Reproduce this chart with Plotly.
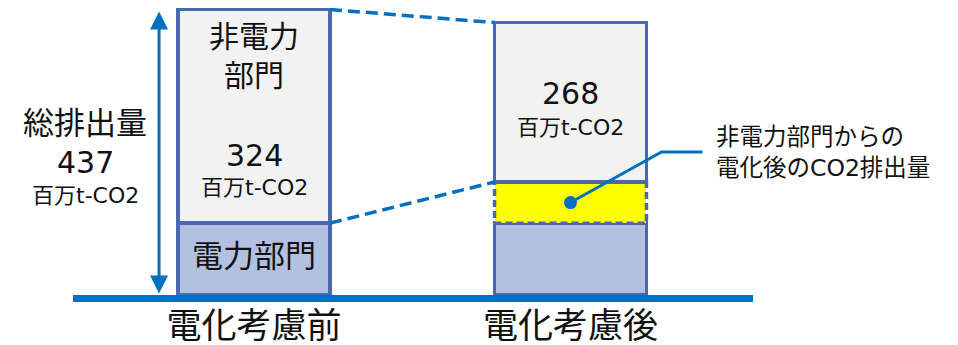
import plotly.graph_objects as go

# データ (百万t-CO2)
categories = ["電化考慮前", "電化考慮後"]
power = [110, 110]          # 電力部門
electrified = [0, 63]       # 非電力部門からの電化後のCO2排出量
non_power = [327, 244]      # 非電力部門
label_total = "437"
label_non_power = ["324", "268"]
unit = "百万t-CO2"

FONT = "DejaVu Sans, Noto Sans CJK JP"
OUTLINE = "#4A68B0"
BLUE = "#0070C0"

xs = [0, 1]
w = 0.48
px_y = 0.6533  # px per unit
def yp(py):
    return (295 - py) / px_y

fig = go.Figure()

fig.add_trace(go.Bar(x=xs, y=power, width=w, marker=dict(color="#B4C0DF", line=dict(color=OUTLINE, width=3.5))))
fig.add_trace(go.Bar(x=xs, y=electrified, width=w, marker=dict(color="#FFFF00", line=dict(width=0))))
fig.add_trace(go.Bar(x=xs, y=non_power, width=w, marker=dict(color="#F2F2F2", line=dict(color=OUTLINE, width=3.5))))

tot = [power[i] + electrified[i] + non_power[i] for i in range(2)]
mid = [power[i] + electrified[i] for i in range(2)]

# 黄色部分の破線枠
fig.add_trace(go.Scatter(
    x=[xs[1] - w/2, xs[1] + w/2, xs[1] + w/2, xs[1] - w/2, xs[1] - w/2],
    y=[power[1], power[1], mid[1], mid[1], power[1]],
    mode="lines", line=dict(color=OUTLINE, width=3.5, dash="7px,4px")))

# 電化前後をつなぐ破線
fig.add_trace(go.Scatter(x=[xs[0] + w/2, xs[1] - w/2], y=[tot[0], tot[1]],
                         mode="lines", line=dict(color=BLUE, width=3.5, dash="12px,6px")))
fig.add_trace(go.Scatter(x=[xs[0] + w/2, xs[1] - w/2], y=[power[0], mid[1]],
                         mode="lines", line=dict(color=BLUE, width=3.5, dash="12px,6px")))

# 引き出し線
lead_y = yp(152)
fig.add_trace(go.Scatter(x=[xs[1], xs[1] + 0.2875, xs[1] + 0.417],
                         y=[power[1] + electrified[1] / 2, lead_y, lead_y],
                         mode="lines+markers", line=dict(color=BLUE, width=3),
                         marker=dict(size=[13, 0, 0], color=BLUE, opacity=1, line=dict(width=0))))

ann = []
# 総排出量の両矢印
ann.append(dict(x=-0.300, y=tot[0] - 3, ax=-0.300, ay=0, xref="x", yref="y", axref="x", ayref="y",
                text="", showarrow=True, arrowside="end+start", arrowhead=2, arrowsize=1.2,
                arrowwidth=3, arrowcolor=BLUE, standoff=0, startstandoff=0))

def txt(x, y, t, size, **kw):
    d = dict(x=x, y=y, xref="x", yref="y", text=t, showarrow=False,
             font=dict(family=FONT, size=size, color="#111111"))
    d.update(kw)
    ann.append(d)

txt(xs[0], yp(56), "非電力<br>部門", 30)
txt(xs[0], yp(155), label_non_power[0], 30)
txt(xs[0], yp(187), unit, 22)
txt(xs[0], yp(256), "電力部門", 31)
txt(xs[1], yp(93), label_non_power[1], 30)
txt(xs[1], yp(127.5), unit, 22)
txt(-0.534, yp(123), "総排出量", 31)
txt(-0.534, yp(162), label_total, 30)
txt(-0.534, yp(195), unit, 22)
txt(1.453, lead_y, "非電力部門からの<br>電化後のCO2排出量", 23.5, xanchor="left", align="left")

# ページ余白(8px)の分だけ図を小さくする
fig.update_layout(
    width=950, height=337,
    margin=dict(l=0, r=0, t=0, b=50),
    barmode="stack", showlegend=False,
    plot_bgcolor="white", paper_bgcolor="white",
    annotations=ann,
    xaxis=dict(domain=[65/950, 745/950], range=[-0.5719, 1.5766], automargin=False,
               tickvals=xs, ticktext=categories, ticks="", ticklabelstandoff=-6,
               tickfont=dict(family=FONT, size=35, color="#111111"),
               showline=True, linewidth=7, linecolor=BLUE, showgrid=False, zeroline=False),
    yaxis=dict(range=[0, 287 / px_y], visible=False, showgrid=False, zeroline=False,
               automargin=False),
)

fig.write_html("out.html")
